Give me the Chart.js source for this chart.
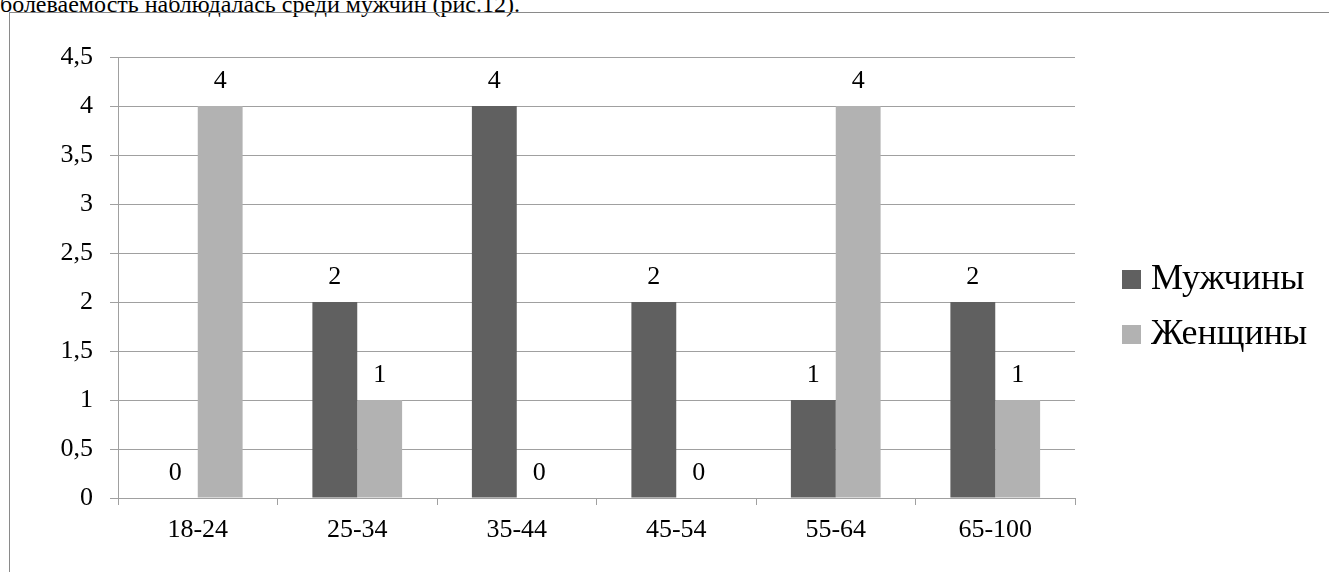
<!DOCTYPE html>
<html>
<head>
<meta charset="utf-8">
<script src="https://cdn.jsdelivr.net/npm/chart.js@4.4.0/dist/chart.umd.min.js"></script>
<style>
  html, body { margin: 0; padding: 0; background: #fff; overflow: hidden; }
  body { width: 1329px; height: 572px; position: relative; }
  #caption {
    position: absolute; left: 0; top: -8px;
    font-family: "Liberation Serif", "Times New Roman", serif;
    font-size: 24px; line-height: 24px; color: #000; white-space: nowrap;
  }
  #frame {
    position: absolute; left: 9px; top: 12px; right: -5px; bottom: -5px;
    border-left: 1px solid #8a8a8a; border-top: 1px solid #8a8a8a;
  }
  #chart-container { position: absolute; left: 10px; top: 14px; width: 1319px; height: 558px; }
</style>
</head>
<body>
<div id="caption">болеваемость наблюдалась среди мужчин (рис.12).</div>
<div id="frame"></div>
<div id="chart-container"><canvas id="myChart"></canvas></div>
<script>
'use strict';
const ageGroups = ['18-24', '25-34', '35-44', '45-54', '55-64', '65-100'];
const menValues = [0, 2, 4, 2, 1, 2];
const womenValues = [4, 1, 0, 0, 4, 1];
const seriesNames = ['Мужчины', 'Женщины'];

const serif = '"Liberation Serif", "Times New Roman", serif';

// value labels above each bar
const barLabels = {
    id: 'barLabels',
    afterDatasetsDraw(chart) {
        const ctx = chart.ctx;
        ctx.save();
        ctx.font = '26px ' + serif;
        ctx.fillStyle = '#000';
        ctx.textAlign = 'center';
        ctx.textBaseline = 'middle';
        chart.data.datasets.forEach((ds, i) => {
            chart.getDatasetMeta(i).data.forEach((bar, j) => {
                ctx.fillText(String(ds.data[j]), bar.x, bar.y - 25);
            });
        });
        ctx.restore();
    }
};

// legend to the right of the plot, like the Word one
const sideLegend = {
    id: 'sideLegend',
    afterDraw(chart) {
        const ctx = chart.ctx;
        const area = chart.chartArea;
        const rows = [265, 320];
        ctx.save();
        ctx.font = '36px ' + serif;
        ctx.textBaseline = 'middle';
        chart.data.datasets.forEach((ds, i) => {
            const y = rows[i];
            ctx.fillStyle = ds.backgroundColor;
            ctx.fillRect(area.right + 47, y - 9, 19, 19);
            ctx.fillStyle = '#000';
            ctx.fillText(ds.label, area.right + 76, y + 1);
        });
        ctx.restore();
    }
};

new Chart('myChart', {
    type: 'bar',
    data: {
        labels: ageGroups,
        datasets: [
            { label: seriesNames[0], data: menValues, backgroundColor: '#606060' },
            { label: seriesNames[1], data: womenValues, backgroundColor: '#b2b2b2' }
        ]
    },
    options: {
        responsive: true,
        maintainAspectRatio: false,
        animation: false,
        layout: { padding: { top: 43, bottom: 0, left: 0, right: 254 } },
        datasets: { bar: { categoryPercentage: 0.5625, barPercentage: 1 } },
        scales: {
            x: {
                grid: { drawOnChartArea: false, tickLength: 7, color: '#a0a0a0' },
                border: { color: '#a0a0a0' },
                ticks: { color: '#000', font: { family: serif, size: 26 }, padding: 10, maxRotation: 0 },
                afterFit(scale) { scale.height = 74; }
            },
            y: {
                min: 0,
                max: 4.5,
                ticks: {
                    stepSize: 0.5,
                    color: '#000',
                    font: { family: serif, size: 26 },
                    padding: 17,
                    callback: v => String(v).replace('.', ',')
                },
                grid: { tickLength: 8, color: '#a0a0a0' },
                border: { color: '#a0a0a0' },
                afterFit(scale) { scale.width = 108; }
            }
        },
        plugins: {
            tooltip: { enabled: false },
            legend: { display: false }
        }
    },
    plugins: [barLabels, sideLegend]
});
</script>
</body>
</html>
